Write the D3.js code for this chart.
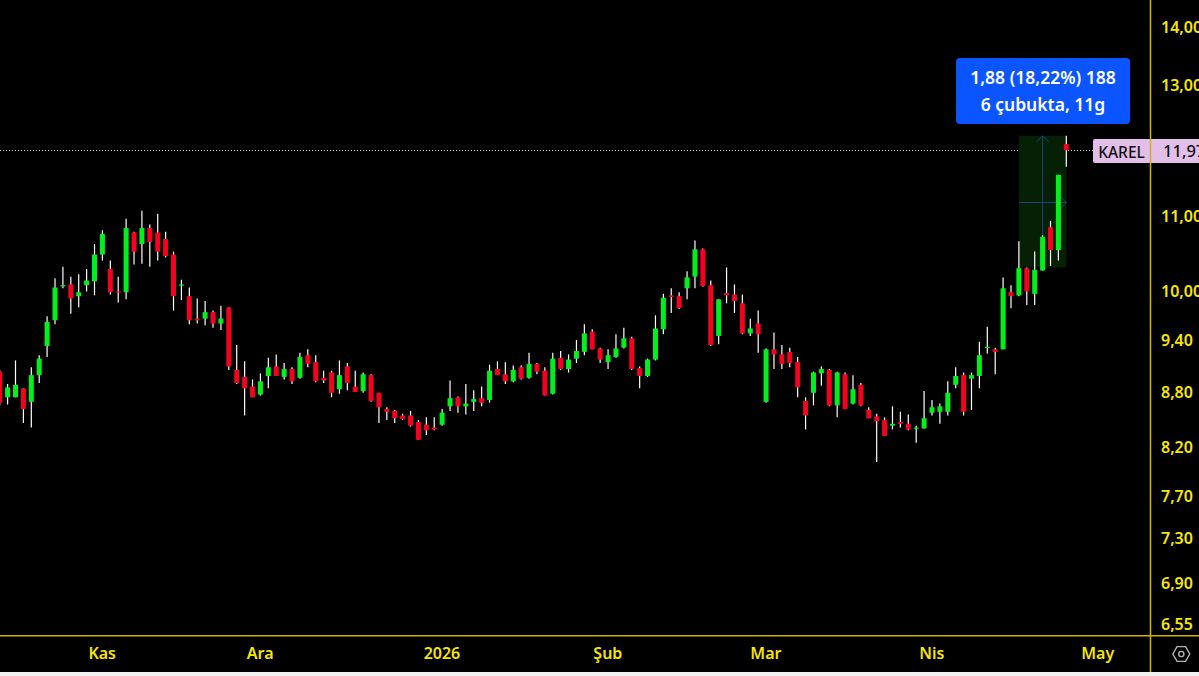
<!DOCTYPE html>
<html><head><meta charset="utf-8">
<script src="https://cdn.jsdelivr.net/npm/d3@7"></script>
<style>html,body{margin:0;padding:0;background:#000;overflow:hidden}svg{display:block}</style>
</head><body><svg id="c" width="1199" height="676"></svg>
<script>
const opens=[9.03,8.74,8.74,8.84,8.69,8.99,9.33,9.64,10.07,10.09,9.94,10.08,10.13,10.48,10.29,10.00,9.99,10.78,10.62,10.84,10.78,10.69,10.48,10.08,9.94,9.66,9.66,9.74,9.60,9.80,9.05,8.97,8.86,8.77,8.98,9.09,8.97,9.06,8.96,9.22,9.14,8.96,9.02,8.83,9.09,8.86,8.81,8.99,8.79,8.61,8.59,8.54,8.54,8.47,8.44,8.41,8.44,8.64,8.74,8.64,8.69,8.73,8.71,9.06,9.00,8.92,9.08,8.96,9.12,9.04,8.78,9.19,9.06,9.18,9.26,9.50,9.30,9.14,9.20,9.31,9.42,9.07,8.98,9.17,9.53,9.95,9.94,10.04,10.19,10.55,10.08,9.45,9.98,9.96,9.85,9.48,9.60,8.69,9.29,9.23,9.26,9.14,8.70,8.79,9.01,9.05,8.65,9.00,8.67,8.88,8.60,8.53,8.49,8.43,8.47,8.45,8.40,8.40,8.57,8.58,8.58,8.88,8.99,8.95,8.98,9.31,9.29,9.29,9.99,9.95,10.30,9.97,10.27,10.85,10.54,12.06];
const highs=[9.05,8.89,9.16,8.84,9.08,9.22,9.69,10.17,10.32,10.19,10.22,10.29,10.62,10.81,10.40,10.19,10.97,10.79,11.08,10.89,11.04,10.79,10.52,10.15,10.05,9.91,9.88,9.76,9.82,9.80,9.34,9.15,8.94,9.01,9.19,9.23,9.13,9.08,9.25,9.29,9.22,9.04,9.04,9.16,9.13,9.04,9.02,9.00,8.79,8.63,8.60,8.56,8.59,8.49,8.52,8.52,8.61,8.93,8.75,8.89,8.82,8.86,9.11,9.15,9.14,9.10,9.10,9.25,9.13,9.08,9.25,9.27,9.23,9.40,9.59,9.53,9.31,9.29,9.47,9.55,9.44,9.09,9.18,9.70,9.97,10.04,9.99,10.26,10.67,10.56,10.14,9.90,10.31,10.09,9.96,9.66,9.76,9.30,9.49,9.34,9.31,9.20,8.74,9.03,9.09,9.06,9.03,9.02,8.99,8.90,8.63,8.56,8.52,8.64,8.58,8.55,8.43,8.81,8.71,8.67,8.92,9.08,9.02,9.02,9.38,9.56,9.31,10.18,10.08,10.66,10.31,10.52,10.74,10.94,11.60,12.19];
const lows=[8.65,8.66,8.74,8.46,8.41,8.90,9.20,9.59,10.04,9.72,9.80,10.00,9.95,10.40,9.96,9.86,9.90,10.35,10.36,10.32,10.40,10.44,9.76,9.89,9.59,9.60,9.58,9.55,9.52,9.05,8.89,8.54,8.74,8.76,8.84,8.98,8.94,8.89,8.95,9.08,8.91,8.90,8.74,8.78,8.82,8.80,8.79,8.69,8.46,8.49,8.46,8.49,8.42,8.28,8.33,8.38,8.43,8.59,8.57,8.55,8.59,8.64,8.68,8.99,8.89,8.91,8.94,8.95,9.00,8.76,8.77,9.05,9.02,9.13,9.22,9.29,9.13,9.06,9.19,9.30,9.05,8.84,8.97,9.16,9.47,9.73,9.78,9.90,10.04,10.06,9.33,9.35,9.85,9.73,9.47,9.45,9.25,8.68,9.06,9.06,9.08,8.74,8.39,8.65,8.87,8.64,8.52,8.61,8.66,8.64,8.51,8.05,8.32,8.39,8.41,8.38,8.25,8.40,8.54,8.45,8.54,8.84,8.54,8.60,8.84,9.24,9.00,9.29,9.79,9.94,9.83,9.83,10.27,10.33,10.40,11.72];
const closes=[8.68,8.85,8.88,8.61,8.99,9.18,9.62,10.05,10.08,9.91,9.99,10.14,10.48,10.76,9.99,9.99,10.84,10.52,10.84,10.65,10.52,10.46,9.94,10.09,9.64,9.64,9.74,9.60,9.66,9.09,8.90,8.84,8.74,8.92,9.08,8.98,9.06,8.92,9.20,9.12,8.92,8.93,8.79,8.99,8.90,8.80,9.00,8.70,8.63,8.58,8.51,8.50,8.43,8.28,8.38,8.39,8.57,8.73,8.64,8.67,8.72,8.68,9.04,8.99,8.92,9.05,8.95,9.12,9.03,8.76,9.18,9.06,9.17,9.27,9.48,9.29,9.17,9.22,9.30,9.42,9.06,8.98,9.17,9.54,9.92,9.93,9.79,10.18,10.55,10.07,9.34,9.90,9.95,9.88,9.48,9.54,9.47,9.29,9.23,9.12,9.13,8.85,8.54,9.02,9.06,8.65,9.02,8.61,8.83,8.65,8.51,8.48,8.32,8.45,8.45,8.39,8.41,8.51,8.63,8.64,8.79,8.98,8.58,8.99,9.22,9.32,9.26,10.04,9.94,10.30,10.00,10.28,10.72,10.54,11.60,11.97];

const priceTicks=[14,13,11,10,9.4,8.8,8.2,7.7,7.3,6.9,6.55];
const timeIndex=[13,33,56,77,97,118,139];
const timeLabels=["Kas","Ara","2026","Şub","Mar","Nis","May"];
const lastLabel="11,97", symbol="KAREL";
const measureLines=["1,88 (18,22%) 188","6 çubukta, 11g"];
const measureFrom=129, measureTo=135, measureMid=132, measureLow=10.31, measureHigh=12.19;

const GOLD="#d2b300", TXT="#f7e600", UP="#00f01c", DOWN="#f5001e";
const FONT="'Noto Sans',sans-serif";
const x=d3.scaleLinear().domain([0,135]).range([-0.3,1066.3]);
const y=d3.scaleLog().domain([6.55,14]).range([624,27]);
const svg=d3.select("#c");
const fmt=v=>d3.format(".2f")(v).replace(".",",");
svg.append("rect").attr("width",1199).attr("height",676).attr("fill","#000");
svg.append("rect").attr("y",672).attr("width",1199).attr("height",4).attr("fill","#f1f1f1");

// last price line
const lastY=Math.round(y(closes[135]))+.5;
svg.append("line").attr("x1",0).attr("x2",1093).attr("y1",lastY).attr("y2",lastY)
  .attr("stroke","#cfcfcf").attr("stroke-dasharray","1 2");

// measure tool
const m=svg.append("g");
const mTop=y(measureHigh), mBot=y(measureLow), mMid=Math.round((mTop+mBot)/2)+.5;
m.append("rect").attr("x",x(measureFrom)).attr("y",mTop).attr("width",x(measureTo)-x(measureFrom)).attr("height",mBot-mTop).attr("fill","#052005");
const blue="#17437a";
m.append("line").attr("x1",x(measureMid)).attr("x2",x(measureMid)).attr("y1",mTop).attr("y2",mBot).attr("stroke",blue);
m.append("line").attr("x1",x(measureFrom)).attr("x2",x(measureTo)).attr("y1",mMid).attr("y2",mMid).attr("stroke",blue);
m.append("path").attr("d",`M${x(measureMid)-6},${mTop+6}L${x(measureMid)},${mTop}L${x(measureMid)+6},${mTop+6}`).attr("fill","none").attr("stroke",blue);
m.append("path").attr("d",`M${x(measureTo)-6},${mMid-6}L${x(measureTo)},${mMid}L${x(measureTo)-6},${mMid+6}`).attr("fill","none").attr("stroke",blue);

// candles
const g=svg.append("g");
const data=d3.range(opens.length);
g.selectAll("line.w").data(data).join("line").attr("class","w")
  .attr("x1",i=>x(i)).attr("x2",i=>x(i)).attr("y1",i=>y(highs[i])).attr("y2",i=>y(lows[i]))
  .attr("stroke","#fff").attr("stroke-width",1.2);
g.selectAll("rect.b").data(data).join("rect").attr("class","b")
  .attr("x",i=>x(i)-2.5).attr("width",5)
  .attr("y",i=>y(Math.max(opens[i],closes[i])))
  .attr("height",i=>Math.max(1.2,Math.abs(y(opens[i])-y(closes[i]))))
  .attr("fill",i=>closes[i]>=opens[i]?UP:DOWN);

// label
svg.append("rect").attr("x",1093).attr("y",139).attr("width",110).attr("height",24).attr("rx",2).attr("fill","#e2bfe9");
svg.append("text").attr("x",1121.5).attr("y",157.5).attr("text-anchor","middle").attr("font-family",FONT).attr("font-size",15.5).attr("font-weight",500).attr("fill","#111").text(symbol);
svg.append("text").attr("x",1163).attr("y",157).attr("font-family",FONT).attr("font-size",16.5).attr("font-weight",500).attr("fill","#111").text(lastLabel);

// axes
const ya=d3.axisRight(y).tickValues(priceTicks).tickFormat(fmt).tickSize(0).tickPadding(0);
const yg=svg.append("g").attr("transform","translate(1161,0)").call(ya);
yg.select(".domain").remove();
yg.selectAll("text").attr("font-family",FONT).attr("font-size",16).attr("font-weight",600).attr("fill",TXT);
const xa=d3.axisBottom(x).tickValues(timeIndex).tickFormat((d,i)=>timeLabels[i]).tickSize(0).tickPadding(0);
const xg=svg.append("g").attr("transform","translate(-0.7,647.5)").call(xa);
xg.select(".domain").remove();
xg.selectAll("text").attr("font-family",FONT).attr("font-size",16).attr("font-weight",600).attr("fill",TXT);
svg.append("line").attr("x1",1150.5).attr("x2",1150.5).attr("y1",0).attr("y2",672).attr("stroke",GOLD).attr("stroke-width",1.5);
svg.append("line").attr("x1",0).attr("x2",1199).attr("y1",635.7).attr("y2",635.7).attr("stroke",GOLD).attr("stroke-width",1.5);

// settings icon
const cx=1181.3,cy=654,hex=d3.range(6).map(k=>{const a=k*Math.PI/3;return [cx+8.5*Math.cos(a),cy+8.5*Math.sin(a)];});
svg.append("polygon").attr("points",hex.join(" ")).attr("fill","none").attr("stroke","#b4b4b4").attr("stroke-width",1.4);
svg.append("circle").attr("cx",cx).attr("cy",cy).attr("r",2.6).attr("fill","none").attr("stroke","#b4b4b4").attr("stroke-width",1.4);

// measure box
svg.append("rect").attr("x",956).attr("y",58).attr("width",174).attr("height",66).attr("rx",4).attr("fill","#0a55ff");
svg.selectAll("text.t").data(measureLines).join("text").attr("class","t")
  .attr("x",1043).attr("y",(d,i)=>83.7+i*27.5).attr("text-anchor","middle")
  .attr("font-family",FONT).attr("font-size",17.5).attr("font-weight",600).attr("fill","#fff").text(d=>d);
</script></body></html>
